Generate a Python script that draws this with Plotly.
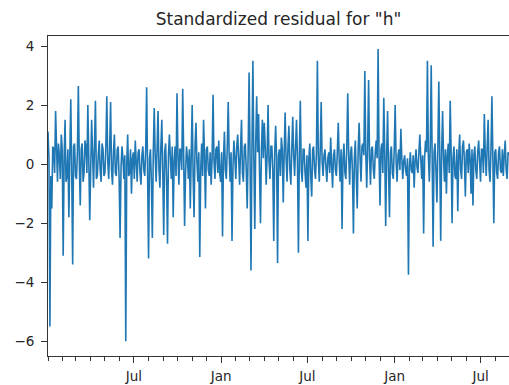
import pandas as pd
import plotly.graph_objects as go

title_text = 'Standardized residual for "h"'
start_date = "2019-01-01"
step_days = 2

resid = [
    1.1, 0.2, -5.5, -0.4, -1.5, 0.6, 0.5, -0.3, 1.8, 0.4, -0.6, 0.7, 0.3, -0.5, 1.0, 0.5, -3.1, 0.2, 1.5, -0.6,
    -0.4, 0.5, -1.8, 0.3, 2.2, -0.2, -3.4, 0.6, 0.7, -0.4, -0.5, 0.4, 2.65, 0.1, -1.4, 0.5, 0.7, -0.6, -0.3, 0.8,
    0.6, -0.3, 2.0, 0.2, -1.9, -0.2, 1.5, 0.4, -0.8, 0.6, 2.15, -0.5, -0.4, 0.3, 0.8, -0.2, -0.6, 0.7, 0.5, -0.4,
    -0.3, 0.6, 2.3, 0.1, -0.5, 0.5, 2.1, -0.2, -0.7, 0.4, 1.0, -0.3, -0.4, 0.5, 0.6, -0.5, -2.5, -0.1, 0.6, 0.2,
    -0.5, 0.3, -6.0, 0.0, 1.0, -0.4, -0.3, 0.5, -1.0, 0.2, 0.4, -0.5, 0.8, 0.1, -0.6, 0.4, 0.5, -0.3, -0.7, 0.3,
    0.6, -0.2, -0.4, 0.5, 2.6, -0.3, -3.2, 0.2, 0.5, -0.6, -2.5, 0.4, 1.9, 0.3, -0.6, 0.5, 1.8, -0.2, -0.8, 0.6,
    1.5, -0.3, -2.4, 0.4, 0.7, -0.5, -2.7, 0.3, 1.0, 0.2, -0.5, 0.6, -1.8, 0.1, 0.6, -0.4, 2.4, 0.3, -0.7, 0.5,
    0.5, -0.2, 2.55, 0.4, -2.1, -0.3, 0.6, 0.2, -0.5, 0.5, -1.5, 0.3, 2.0, -0.4, -1.8, 0.6, 1.4, 0.1, -0.6, 0.4,
    -3.15, -0.2, 0.7, -0.4, 1.5, 0.3, -1.5, 0.5, 0.6, -0.2, -0.4, 0.4, -0.7, 0.2, 2.35, 0.1, -0.5, 0.5, 0.6, -0.3,
    0.8, -0.3, -0.6, 0.4, -2.45, 0.2, 1.1, -0.2, -0.5, 0.6, 2.1, 0.3, -0.6, 0.4, -2.6, -0.1, 0.8, 0.2, -0.5, 0.6,
    1.0, 0.2, -0.7, 0.5, 1.5, -0.3, -0.6, 0.6, 0.7, -0.2, -1.5, 0.4, 3.1, 0.3, -3.6, 0.5, 3.5, 0.2, -2.2, 0.7,
    2.3, 0.4, 1.7, -0.3, -2.0, 0.5, 1.5, 0.2, 1.4, 0.6, -0.7, 0.3, 2.0, 0.1, -0.5, 0.6, 0.6, -0.2, -2.6, 0.4,
    1.3, 0.2, -3.35, 0.3, 0.5, -0.4, 0.9, 0.5, -1.3, 0.4, 1.75, 0.2, -0.6, 0.6, 1.3, -0.2, -0.7, 0.5, 1.6, 0.3,
    -0.4, 0.6, 1.5, 0.1, -3.0, 0.4, 2.15, -0.2, -0.6, 0.5, 0.5, -0.3, -0.8, 0.3, -2.6, 0.2, 0.7, -0.4, -1.1, 0.5,
    0.6, -0.2, -0.5, 0.4, 3.5, 0.2, -0.6, 0.5, 2.1, 0.1, -0.4, 0.3, 0.5, -0.1, -0.6, 0.2, 0.4, -0.3, 0.9, 0.0,
    -0.8, 0.3, 0.5, -0.2, -0.4, 0.4, 1.4, 0.1, -0.6, 0.5, -2.2, 0.2, 0.7, -0.3, -0.5, 0.6, 2.4, 0.3, -0.7, 0.4,
    0.6, -0.3, -2.35, 0.2, 0.8, -0.4, -1.5, 0.5, 1.4, 0.2, -0.6, 0.6, 0.7, 0.3, 3.15, 0.4, -0.8, 0.6, 2.85, 0.2,
    -0.7, 0.5, 0.6, -0.2, -0.5, 0.4, 0.8, 0.2, 3.9, 0.3, -1.4, 0.5, 0.7, -0.3, 2.25, 0.4, -2.1, 0.3, 1.8, -0.2,
    -1.8, 0.4, 0.6, -0.3, -0.5, 0.5, 2.0, 0.1, -0.6, 0.3, 0.5, -0.2, 1.2, 0.2, -0.5, 0.1, 0.3, -0.2, -0.4, 0.2,
    -3.75, -0.1, 0.4, -0.2, -0.3, 0.3, -0.8, 0.1, 0.5, -0.1, -0.3, 0.4, 1.0, 0.2, -0.5, 0.3, -2.35, 0.2, 0.8, 0.4,
    3.5, 0.3, -0.6, 0.6, 3.35, 0.2, -2.8, 0.4, 0.7, -0.2, -1.3, 0.5, 2.8, 0.3, -2.6, 0.4, 1.8, 0.2, -0.6, 0.5,
    -1.0, 0.3, 0.7, -0.3, 2.15, 0.4, -2.0, 0.2, 0.6, -0.4, -0.5, 0.5, -1.6, 0.3, 1.0, -0.2, -0.5, 0.6, 0.8, 0.1,
    -1.1, 0.4, 0.5, -0.3, 0.7, 0.2, -1.0, 0.5, -1.4, 0.3, 0.6, -0.2, -0.5, 0.4, 0.8, 0.1, -0.6, 0.5, 0.5, -0.3,
    1.7, 0.3, -0.4, 0.6, 1.5, -0.2, -0.6, 0.5, 2.3, 0.2, -2.0, 0.4, 0.5, -0.3, -0.5, 0.4, 0.6, -0.2, -0.3, 0.5,
    -0.4, 0.3, 0.8, -0.2, -0.5, 0.4, 0.3,
]

x_tick_vals = ["2019-07-01", "2020-01-01", "2020-07-01", "2021-01-01", "2021-07-01"]
x_tick_text = ["Jul", "Jan", "Jul", "Jan", "Jul"]
y_tick_vals = [-6, -4, -2, 0, 2, 4]

dates = pd.date_range(start_date, periods=len(resid), freq=f"{step_days}D")

fig = go.Figure(
    go.Scatter(
        x=dates,
        y=resid,
        mode="lines",
        line=dict(color="#1f77b4", width=1.6),
        showlegend=False,
    )
)

fig.update_layout(
    width=509,
    height=385,
    margin=dict(l=48, r=0, t=36, b=29),
    paper_bgcolor="white",
    plot_bgcolor="white",
    font=dict(family="DejaVu Sans", color="#262626", size=13),
    title=dict(
        text=title_text,
        x=0.5,
        xref="paper",
        xanchor="center",
        yref="container",
        yanchor="middle",
        pad=dict(t=0, b=0),
        font=dict(size=17, color="#262626"),
    ),
)
fig.layout.title.y = 1 - 19.5 / 385

fig.update_xaxes(
    type="date",
    range=[dates[0], dates[-1]],
    tickvals=x_tick_vals,
    ticktext=x_tick_text,
    ticks="outside",
    ticklen=6,
    tickcolor="#333333",
    tickwidth=1,
    showline=True,
    linecolor="#333333",
    linewidth=1,
    mirror=True,
    showgrid=False,
    zeroline=False,
    ticklabelstandoff=2,
    tickfont=dict(size=13.5),
    minor=dict(
        dtick="M1",
        tick0="2019-01-01",
        ticks="outside",
        ticklen=4,
        tickcolor="#333333",
        showgrid=False,
    ),
)

fig.update_yaxes(
    range=[-6.5, 4.34],
    tickvals=y_tick_vals,
    ticks="outside",
    ticklen=6,
    tickcolor="#333333",
    showline=True,
    linecolor="#333333",
    linewidth=1,
    mirror=False,
    showgrid=False,
    zeroline=False,
    ticklabelstandoff=4,
    tickfont=dict(size=13.5),
)

fig.write_html("out.html")
